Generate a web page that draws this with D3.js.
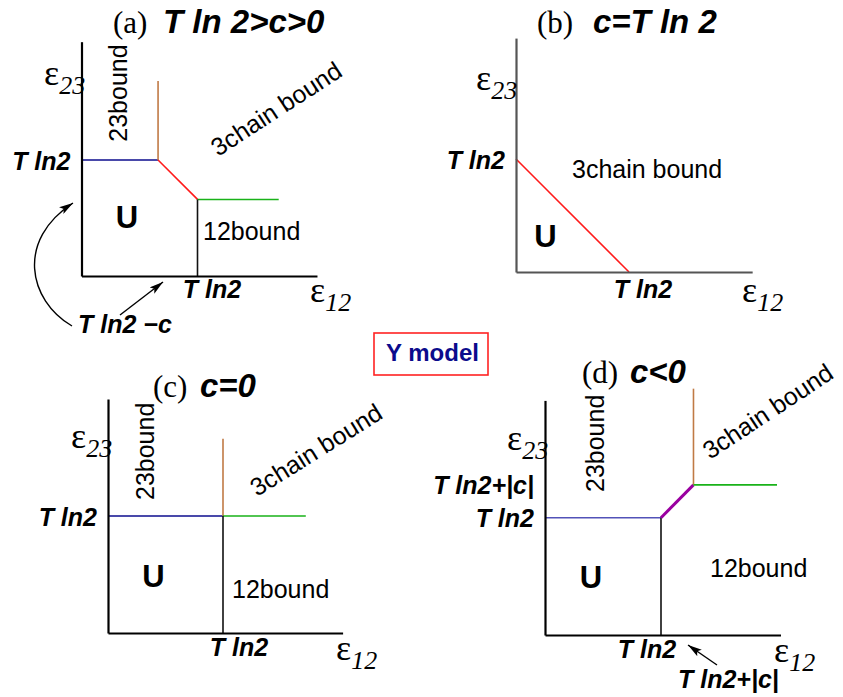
<!DOCTYPE html>
<html>
<head>
<meta charset="utf-8">
<script src="https://cdn.jsdelivr.net/npm/d3@7"></script>
<style>
body { margin: 0; background: #fff; }
svg { display: block; }
</style>
</head>
<body>
<script>
// all values in units of T ln2 ; a: c = 0.34 , d: |c| = 0.28
var titleTags  = ["(a)", "(b)", "(c)", "(d)"];
var titleConds = ["T ln 2>c>0", "c=T ln 2", "c=0", "c<0"];

// [boundary, x1, y1, x2, y2]
var segmentsA = [["U-23", 0, 1, 0.66, 1], ["23-3", 0.66, 1, 0.66, 1.68], ["U-3", 0.66, 1, 1, 0.66],
                 ["12-3", 1, 0.66, 1.7, 0.66], ["U-12", 1, 0.66, 1, 0]];
var segmentsB = [["U-3", 0, 1, 1, 0]];
var segmentsC = [["U-23", 0, 1, 1, 1], ["23-3", 1, 1, 1, 1.66], ["12-3", 1, 1, 1.72, 1], ["U-12", 1, 1, 1, 0]];
var segmentsD = [["U-23", 0, 1, 1, 1], ["U-12", 1, 1, 1, 0], ["12-23", 1, 1, 1.28, 1.28],
                 ["23-3", 1.28, 1.28, 1.28, 2.1], ["12-3", 1.28, 1.28, 2.0, 1.28]];

var xTicks = [1];
var xTickLabels = ["T ln2"];
var yTicksABC = [1];
var yTickLabelsABC = ["T ln2"];
var yTicksD = [1, 1.28];
var yTickLabelsD = ["T ln2", "T ln2+|c|"];

var colors = {"U-23": "#0c0c8e", "23-3": "#c07a45", "U-3": "#ff1a1a", "12-3": "#19b219", "U-12": "#111", "12-23": "#9a00a0"};

var sans = "'Liberation Sans', Arial, sans-serif";
var serif = "'Liberation Serif', 'Times New Roman', serif";

var svg = d3.select("body").append("svg").attr("width", 843).attr("height", 697);

svg.append("defs").append("marker").attr("id", "head")
    .attr("viewBox", "0 0 14 8").attr("refX", 14).attr("refY", 4)
    .attr("markerWidth", 14).attr("markerHeight", 8)
    .attr("markerUnits", "userSpaceOnUse").attr("orient", "auto")
    .append("path").attr("d", "M0,0L14,4L0,8L3,4z").attr("fill", "#000");

var panels = [
    {ox: 81.5, oy: 276, ux: 116, uy: 116, xmax: 2.03, ymax: 2.02, axis: "#000", segs: segmentsA,
     yt: yTicksABC, yl: yTickLabelsABC, xdx: 14, xdy: 22, tx: 113, tx2: 163, ty: 33,
     e23: [44, 85], e12: [310, 302]},
    {ox: 516, oy: 272, ux: 113, uy: 113, xmax: 2.09, ymax: 2.07, axis: "#555", segs: segmentsB,
     yt: yTicksABC, yl: yTickLabelsABC, xdx: 13.5, xdy: 26, tx: 537, tx2: 593, ty: 33,
     e23: [476, 90], e12: [742, 302]},
    {ox: 108, oy: 633, ux: 115, uy: 117, xmax: 2.04, ymax: 2.0, axis: "#000", segs: segmentsC,
     yt: yTicksABC, yl: yTickLabelsABC, xdx: 15.5, xdy: 23, tx: 153, tx2: 200, ty: 397,
     e23: [71, 448], e12: [336, 660]},
    {ox: 545, oy: 635, ux: 116, uy: 117.3, xmax: 2.03, ymax: 2.0, axis: "#000", segs: segmentsD,
     yt: yTicksD, yl: yTickLabelsD, xdx: -14.5, xdy: 23, tx: 582, tx2: 630, ty: 383,
     e23: [507, 450], e12: [774, 662], blue: "#5252b8"}
];

panels.forEach(function(p, i) {
    var g = svg.append("g");
    var x = d3.scaleLinear().domain([0, p.xmax]).range([p.ox, p.ox + p.xmax * p.ux]);
    var y = d3.scaleLinear().domain([0, p.ymax]).range([p.oy, p.oy - p.ymax * p.uy]);

    // boundaries
    g.selectAll("line.seg").data(p.segs).join("line").attr("class", "seg")
        .attr("x1", function(d) { return x(d[1]); }).attr("y1", function(d) { return y(d[2]); })
        .attr("x2", function(d) { return x(d[3]); }).attr("y2", function(d) { return y(d[4]); })
        .attr("stroke", function(d) { return (d[0] == "U-23" && p.blue) ? p.blue : colors[d[0]]; })
        .attr("stroke-width", function(d) { return d[0] == "12-23" ? 3 : 1.6; });

    // axes
    var gx = g.append("g").attr("transform", "translate(0," + p.oy + ")")
        .call(d3.axisBottom(x).tickValues(xTicks).tickSize(0).tickSizeOuter(0)
            .tickFormat(function(d, k) { return xTickLabels[k]; }));
    var gy = g.append("g").attr("transform", "translate(" + p.ox + ",0)")
        .call(d3.axisLeft(y).tickValues(p.yt).tickSize(0).tickSizeOuter(0)
            .tickFormat(function(d, k) { return p.yl[k]; }));
    [gx, gy].forEach(function(a) {
        a.attr("font-family", null).attr("font-size", null);
        a.select(".domain").attr("stroke", p.axis).attr("stroke-width", 2.2);
        a.selectAll("text").attr("fill", "#000").style("font", "italic bold 25px " + sans);
    });
    gx.selectAll("text").attr("y", p.xdy).attr("dy", null).attr("dx", p.xdx);
    gy.selectAll("text").attr("x", -11).attr("dy", "0.36em");

    // axis names
    [["23", p.e23], ["12", p.e12]].forEach(function(e) {
        var t = g.append("text").attr("x", e[1][0]).attr("y", e[1][1]).attr("font-family", serif);
        t.append("tspan").attr("font-size", 36).text("ε");
        t.append("tspan").attr("font-size", 26).attr("font-style", "italic")
            .attr("dy", 9).text(e[0]);
    });

    // title
    g.append("text").attr("x", p.tx).attr("y", p.ty).attr("font-family", serif)
        .attr("font-size", 31).text(titleTags[i]);
    g.append("text").attr("x", p.tx2).attr("y", p.ty).style("font", "italic bold 33px " + sans)
        .text(titleConds[i]);
});

// region names
var regionNames = [
    ["23bound", 127.3, 141.7, -90, "start", false],
    ["3chain bound", 218, 157, -33, "start", false],
    ["12bound", 203, 240, 0, "start", false],
    ["U", 127, 228, 0, "middle", true],
    ["3chain bound", 572, 178, 0, "start", false],
    ["U", 545.5, 247, 0, "middle", true],
    ["23bound", 154, 500, -90, "start", false],
    ["3chain bound", 257, 497, -32, "start", false],
    ["U", 153.5, 587, 0, "middle", true],
    ["12bound", 232, 598, 0, "start", false],
    ["23bound", 604, 492, -90, "start", false],
    ["3chain bound", 710, 460, -33.5, "start", false],
    ["U", 591, 588, 0, "middle", true],
    ["12bound", 710, 577, 0, "start", false]
];
svg.selectAll("text.region").data(regionNames).join("text").attr("class", "region")
    .attr("transform", function(d) { return "translate(" + d[1] + "," + d[2] + ") rotate(" + d[3] + ")"; })
    .attr("text-anchor", function(d) { return d[4]; })
    .style("font", function(d) { return d[5] ? "bold 31px " + sans : "25px " + sans; })
    .text(function(d) { return d[0]; });

// pointers
svg.append("text").attr("x", 78).attr("y", 333).style("font", "italic bold 25px " + sans).text("T ln2 \u2212c");
svg.append("text").attr("x", 678).attr("y", 688).style("font", "italic bold 25px " + sans).text("T ln2+|c|");
var arrows = ["M72,326C28,300 16,240 73,203", "M120,315L163,282", "M717,665L688,645"];
svg.selectAll("path.arrow").data(arrows).join("path").attr("class", "arrow")
    .attr("d", function(d) { return d; }).attr("fill", "none").attr("stroke", "#000")
    .attr("stroke-width", 1.4).attr("marker-end", "url(#head)");

// model box
svg.append("rect").attr("x", 374).attr("y", 333).attr("width", 114).attr("height", 42)
    .attr("fill", "none").attr("stroke", "#f22").attr("stroke-width", 1.6);
svg.append("text").attr("x", 386).attr("y", 361).style("font", "bold 24px " + sans)
    .attr("fill", "#0b0b8c").text("Y model");
</script>
</body>
</html>
